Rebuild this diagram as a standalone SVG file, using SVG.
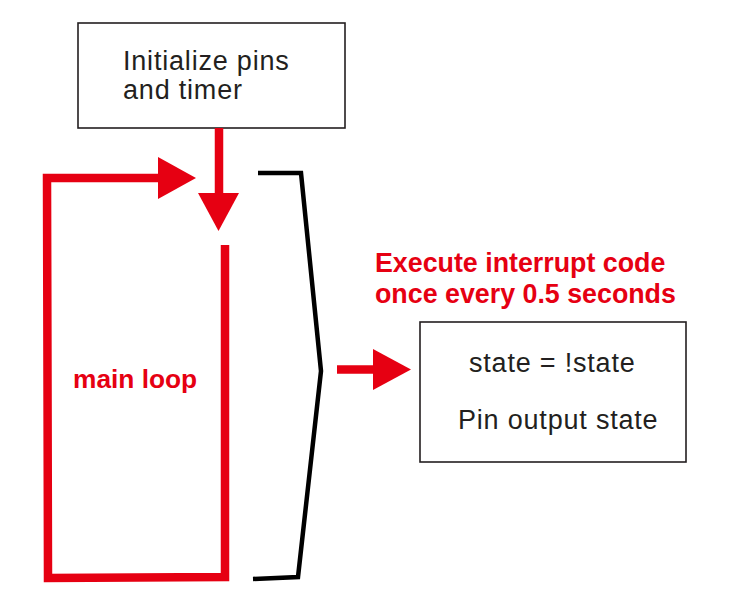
<svg xmlns="http://www.w3.org/2000/svg" width="730" height="606" viewBox="0 0 730 606">
<style>
.box{fill:#fff;stroke:#231f20;stroke-width:1.6}
.t{font-family:"Liberation Sans",Arial,sans-serif;font-size:27px;fill:#231f20;letter-spacing:0.8px}
.r{font-family:"Liberation Sans",Arial,sans-serif;font-weight:bold;fill:#e60012}
.rl{fill:none;stroke:#e60012;stroke-width:8.5;stroke-linejoin:miter;stroke-linecap:butt}
.head{fill:#e60012}
.br{fill:none;stroke:#000;stroke-width:4.5;stroke-linejoin:miter}
</style>
<rect width="730" height="606" fill="#fff"/>
<g id="init">
<rect class="box" x="78" y="23" width="267" height="105"/>
<text class="t" x="123" y="70">Initialize pins</text>
<text class="t" x="123" y="99">and timer</text>
</g>
<g id="interrupt">
<rect class="box" x="420" y="322" width="266" height="140"/>
<text class="t" x="469" y="372">state = !state</text>
<text class="t" x="458" y="429">Pin output state</text>
</g>
<g id="caption">
<text class="r" x="375" y="272" font-size="26.8">Execute interrupt code</text>
<text class="r" x="375" y="303" font-size="26.8">once every 0.5 seconds</text>
</g>
<g id="mainloop">
<text class="r" x="73" y="388" font-size="26.3">main loop</text>
</g>
<g id="connectors">
<line class="rl" x1="219" y1="128" x2="219" y2="194"/>
<polygon class="head" points="198,193 239,193 218.5,231"/>
<polyline class="rl" points="225,245 225,577 48,578 47,178 159,178"/>
<polygon class="head" points="158,157 196,178 158,199"/>
<line class="rl" x1="337" y1="369.5" x2="374" y2="369.5"/>
<polygon class="head" points="373,349 411,369.5 373,390"/>
<polyline class="br" points="258,173 301,173 321,371 298,577 253,579"/>
</g>
</svg>
